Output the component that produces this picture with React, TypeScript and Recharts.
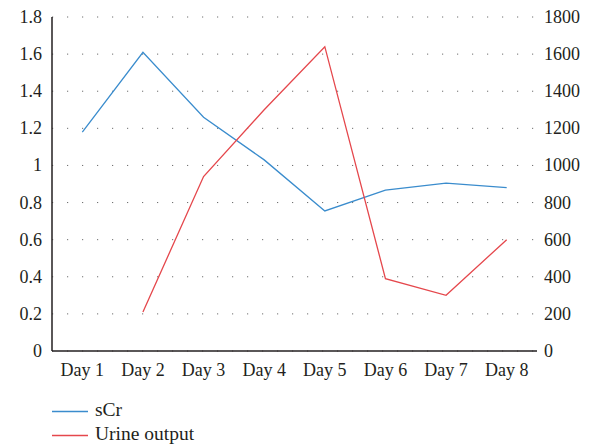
import { LineChart, Line, XAxis, YAxis, CartesianGrid, Legend } from 'recharts'

const days = ['Day 1', 'Day 2', 'Day 3', 'Day 4', 'Day 5', 'Day 6', 'Day 7', 'Day 8']
const sCr = [1.18, 1.61, 1.26, 1.03, 0.755, 0.867, 0.905, 0.88]
const urineOutput: (number | null)[] = [null, 210, 940, 1300, 1640, 390, 300, 600]
const leftTicks = [0, 0.2, 0.4, 0.6, 0.8, 1, 1.2, 1.4, 1.6, 1.8]
const rightTicks = [0, 200, 400, 600, 800, 1000, 1200, 1400, 1600, 1800]

const BLUE = '#3a8ccd'
const RED = '#e5474c'
const INK = '#231f20'
const FONT = '"Liberation Serif", "Times New Roman", serif'

const data = days.map((day, i) => ({ day, sCr: sCr[i], urine: urineOutput[i] }))

function makeTick(anchor: 'start' | 'middle' | 'end', dy: number) {
  // eslint-disable-next-line @typescript-eslint/no-explicit-any
  return ({ x, y, payload }: any) => (
    <text x={x} y={y} dy={dy} textAnchor={anchor} fontSize={18} fontFamily={FONT} fill={INK}>
      {payload.value}
    </text>
  )
}

function LegendBox() {
  const items = [
    { name: 'sCr', color: BLUE },
    { name: 'Urine output', color: RED },
  ]
  return (
    <svg width={300} height={66} style={{ display: 'block' }}>
      {items.map((it, i) => (
        <g key={it.name}>
          <line x1={52} x2={88} y1={30.5 + i * 24} y2={30.5 + i * 24} stroke={it.color} strokeWidth={1.3} />
          <text x={95} y={30 + i * 24} dy={5} fontSize={19.5} fontFamily={FONT} fill={INK}>
            {it.name}
          </text>
        </g>
      ))}
    </svg>
  )
}

export default function App() {
  return (
    <div style={{ position: 'absolute', left: 0, top: 0, background: '#fff' }}>
      <LineChart width={594} height={447} data={data} margin={{ top: 17, right: 0, bottom: 0, left: 0 }}>
        <CartesianGrid yAxisId="left" vertical={false} stroke="#6d6d6d" strokeDasharray="1.2 13.8" />
        <XAxis
          dataKey="day"
          scale="band"
          tick={makeTick('middle', 23)}
          tickLine={false}
          tickSize={0}
          height={30}
          axisLine={{ stroke: INK, strokeWidth: 1.5 }}
          interval={0}
        />
        <YAxis
          yAxisId="left"
          domain={[0, 1.8]}
          ticks={leftTicks}
          tick={makeTick('end', 6)}
          tickLine={false}
          tickSize={0}
          tickMargin={10}
          width={52}
          axisLine={{ stroke: INK, strokeWidth: 1.5 }}
        />
        <YAxis
          yAxisId="right"
          orientation="right"
          domain={[0, 1800]}
          ticks={rightTicks}
          tick={makeTick('start', 6)}
          tickLine={false}
          tickSize={0}
          tickMargin={7}
          width={57}
          axisLine={false}
        />
        <Legend verticalAlign="bottom" align="left" layout="horizontal" content={() => <LegendBox />} />
        <Line
          yAxisId="left"
          dataKey="sCr"
          name="sCr"
          stroke={BLUE}
          strokeWidth={1.3}
          dot={false}
          activeDot={false}
          isAnimationActive={false}
        />
        <Line
          yAxisId="right"
          dataKey="urine"
          name="Urine output"
          stroke={RED}
          strokeWidth={1.3}
          dot={false}
          activeDot={false}
          isAnimationActive={false}
        />
      </LineChart>
    </div>
  )
}
